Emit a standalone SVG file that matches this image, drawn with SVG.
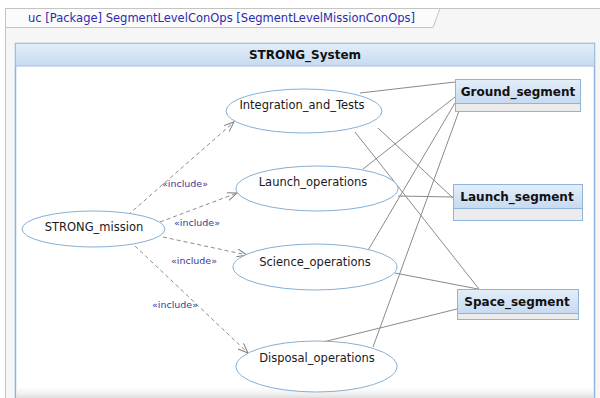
<svg xmlns="http://www.w3.org/2000/svg" width="600" height="398" viewBox="0 0 600 398">
<defs>
<linearGradient id="hdr" x1="0" y1="0" x2="0" y2="1"><stop offset="0" stop-color="#e4eef9"/><stop offset="1" stop-color="#c6daf0"/></linearGradient>
<linearGradient id="bot" x1="0" y1="0" x2="0" y2="1"><stop offset="0" stop-color="#ffffff" stop-opacity="0"/><stop offset="1" stop-color="#dedede"/></linearGradient>
<marker id="open" markerUnits="userSpaceOnUse" markerWidth="12" markerHeight="10" refX="10" refY="4" orient="auto"><path d="M0,0 L10,4 L0,8" fill="none" stroke="#808080" stroke-width="1"/></marker>
<style>
.frame{fill:#f6f6f6;stroke:#c4c4c4;stroke-width:1}
.tab{fill:#fbfbfb;stroke:#c4c4c4;stroke-width:1}
.title{font-family:"DejaVu Sans",sans-serif;font-size:12px;fill:#2b2bb0}
.sys{fill:#ffffff;stroke:#8db5dc;stroke-width:1.5}
.sysh{fill:url(#hdr);stroke:#9fc0e0;stroke-width:1}
.bold{font-family:"DejaVu Sans",sans-serif;font-size:12px;font-weight:bold;fill:#111;text-anchor:middle}
.uc{fill:#ffffff;stroke:#86afd4;stroke-width:1}
.uct{font-family:"DejaVu Sans",sans-serif;font-size:11.5px;fill:#1a1a1a;text-anchor:middle}
.cls{fill:url(#hdr);stroke:#8fb4d9;stroke-width:1}
.comp{fill:#ececec;stroke:#8fb4d9;stroke-width:1}
.assoc{stroke:#8a8a8a;stroke-width:1;fill:none}
.inc{stroke:#8c8c8c;stroke-width:1;stroke-dasharray:4,3;fill:none;marker-end:url(#open)}
.incl{font-family:"DejaVu Sans",sans-serif;font-size:9.5px;fill:#3a3a96;text-anchor:middle}
</style>
</defs>
<rect class="frame" x="5.5" y="8.5" width="600" height="400"/>
<path class="tab" d="M5.5,8.5 L440,8.5 L433,27.5 L5.5,27.5 Z"/>
<text class="title" x="28" y="22" textLength="387" lengthAdjust="spacingAndGlyphs">uc [Package] SegmentLevelConOps [SegmentLevelMissionConOps]</text>
<g id="STRONG_System">
<rect class="sys" x="15.5" y="43.5" width="579" height="370"/>
<rect class="sysh" x="15.5" y="43.5" width="579" height="22.5"/>
<text class="bold" x="305" y="59">STRONG_System</text>
</g>
<rect x="16" y="384" width="578" height="14" fill="url(#bot)"/>
<g id="connectors">
<line class="assoc" x1="360" y1="93" x2="455" y2="82"/>
<line class="assoc" x1="363" y1="169" x2="455" y2="97"/>
<line class="assoc" x1="367" y1="252" x2="455" y2="103"/>
<line class="assoc" x1="373" y1="347" x2="459" y2="111"/>
<line class="assoc" x1="378" y1="128" x2="453" y2="198"/>
<line class="assoc" x1="398" y1="196" x2="453" y2="197"/>
<line class="assoc" x1="355" y1="132" x2="479" y2="289"/>
<line class="assoc" x1="395" y1="273" x2="478" y2="289"/>
<line class="assoc" x1="323" y1="342" x2="457" y2="309"/>
<line class="inc" x1="128" y1="215" x2="234" y2="122"/>
<line class="inc" x1="160" y1="222" x2="237" y2="193"/>
<line class="inc" x1="163" y1="237" x2="247" y2="255"/>
<line class="inc" x1="135" y1="246" x2="248" y2="353"/>
<text class="incl" x="185" y="187">«include»</text>
<text class="incl" x="197" y="226">«include»</text>
<text class="incl" x="194" y="264">«include»</text>
<text class="incl" x="175" y="308">«include»</text>
</g>
<g id="STRONG_mission">
<ellipse class="uc" cx="93.5" cy="229" rx="71.5" ry="18"/>
<text class="uct" x="94" y="231">STRONG_mission</text>
</g>
<g id="Integration_and_Tests">
<ellipse class="uc" cx="304" cy="111" rx="78" ry="22"/>
<text class="uct" x="302" y="109">Integration_and_Tests</text>
</g>
<g id="Launch_operations">
<ellipse class="uc" cx="317" cy="188.5" rx="81" ry="22.5"/>
<text class="uct" x="313" y="186">Launch_operations</text>
</g>
<g id="Science_operations">
<ellipse class="uc" cx="315" cy="267" rx="82" ry="23"/>
<text class="uct" x="315" y="266">Science_operations</text>
</g>
<g id="Disposal_operations">
<ellipse class="uc" cx="316.5" cy="366.5" rx="80.5" ry="25.5"/>
<text class="uct" x="317" y="362">Disposal_operations</text>
</g>
<g id="Ground_segment">
<rect class="cls" x="455.5" y="79.5" width="125" height="24"/>
<rect class="comp" x="455.5" y="103.5" width="125" height="8"/>
<text class="bold" x="518" y="96">Ground_segment</text>
</g>
<g id="Launch_segment">
<rect class="cls" x="453.5" y="184.5" width="129" height="24"/>
<rect class="comp" x="453.5" y="208.5" width="129" height="12"/>
<text class="bold" x="517" y="201">Launch_segment</text>
</g>
<g id="Space_segment">
<rect class="cls" x="457.5" y="289.5" width="121" height="24"/>
<rect class="comp" x="457.5" y="313.5" width="121" height="6"/>
<text class="bold" x="517" y="306">Space_segment</text>
</g>
</svg>
